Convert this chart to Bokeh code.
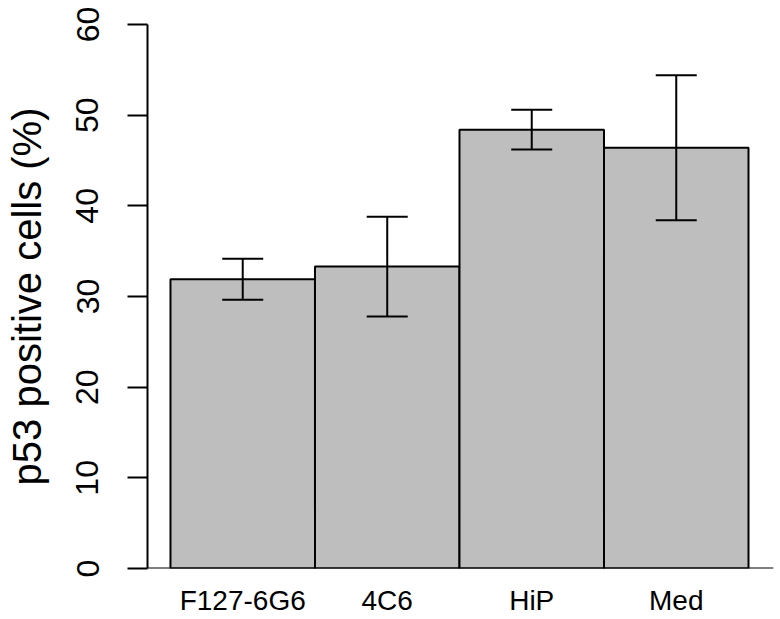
from bokeh.plotting import figure
from bokeh.models import ColumnDataSource, Range1d, FixedTicker, Whisker, TeeHead, Span
from bokeh.embed import file_html
from bokeh.resources import INLINE

# ---- data ----
categories = ["F127-6G6", "4C6", "HiP", "Med"]
means = [31.9, 33.3, 48.4, 46.4]
errors = [2.25, 5.5, 2.2, 8.0]
y_ticks = [0, 10, 20, 30, 40, 50, 60]
y_title = "p53 positive cells (%)"

FONT = "Liberation Sans"
W, H = 780, 619

xs = [i + 0.5 for i in range(len(categories))]
src = ColumnDataSource(dict(
    x=xs,
    top=means,
    upper=[m + e for m, e in zip(means, errors)],
    lower=[m - e for m, e in zip(means, errors)],
))

p = figure(width=W, height=H, output_backend="svg", toolbar_location=None,
           x_range=Range1d(-0.159, 4.173), y_range=Range1d(0, 60),
           min_border_left=147, min_border_right=7, min_border_top=24, min_border_bottom=51)
p.outline_line_color = None
p.grid.visible = False
p.background_fill_color = "white"
p.border_fill_color = "white"

# bars
p.vbar(x="x", top="top", bottom=0, width=1.0, source=src,
       fill_color="#BEBEBE", line_color="black", line_width=2)

# baseline at zero
p.add_layout(Span(location=0, dimension="width", line_color="black", line_width=2))

# error bars
w = Whisker(base="x", upper="upper", lower="lower", source=src,
            line_color="black", line_width=2, level="overlay",
            upper_head=TeeHead(size=41, line_color="black", line_width=2),
            lower_head=TeeHead(size=41, line_color="black", line_width=2))
p.add_layout(w)

# x axis: category labels only
xa = p.xaxis[0]
xa.ticker = FixedTicker(ticks=xs)
xa.major_label_overrides = {x: c for x, c in zip(xs, categories)}
xa.axis_line_color = None
xa.major_tick_line_color = None
xa.minor_tick_line_color = None
xa.major_tick_out = 0
xa.major_tick_in = 0
xa.major_label_text_font = FONT
xa.major_label_text_font_size = "28px"
xa.major_label_text_color = "black"
xa.major_label_standoff = 16

# y axis
ax = p.yaxis[0]
ax.ticker = FixedTicker(ticks=y_ticks)
ax.bounds = (0, 60)
ax.axis_line_width = 2
ax.axis_line_color = "black"
ax.major_tick_line_width = 2
ax.major_tick_line_color = "black"
ax.major_tick_out = 20
ax.major_tick_in = 0
ax.minor_tick_line_color = None
ax.major_label_orientation = "vertical"
ax.major_label_text_font = FONT
ax.major_label_text_font_size = "32px"
ax.major_label_text_color = "black"
ax.major_label_standoff = 29
ax.axis_label = y_title
ax.axis_label_text_font = FONT
ax.axis_label_text_font_size = "40px"
ax.axis_label_text_font_style = "normal"
ax.axis_label_text_color = "black"
ax.axis_label_text_line_height = 0.9
ax.axis_label_standoff = 25

open("out.html", "w").write(file_html(p, INLINE))
